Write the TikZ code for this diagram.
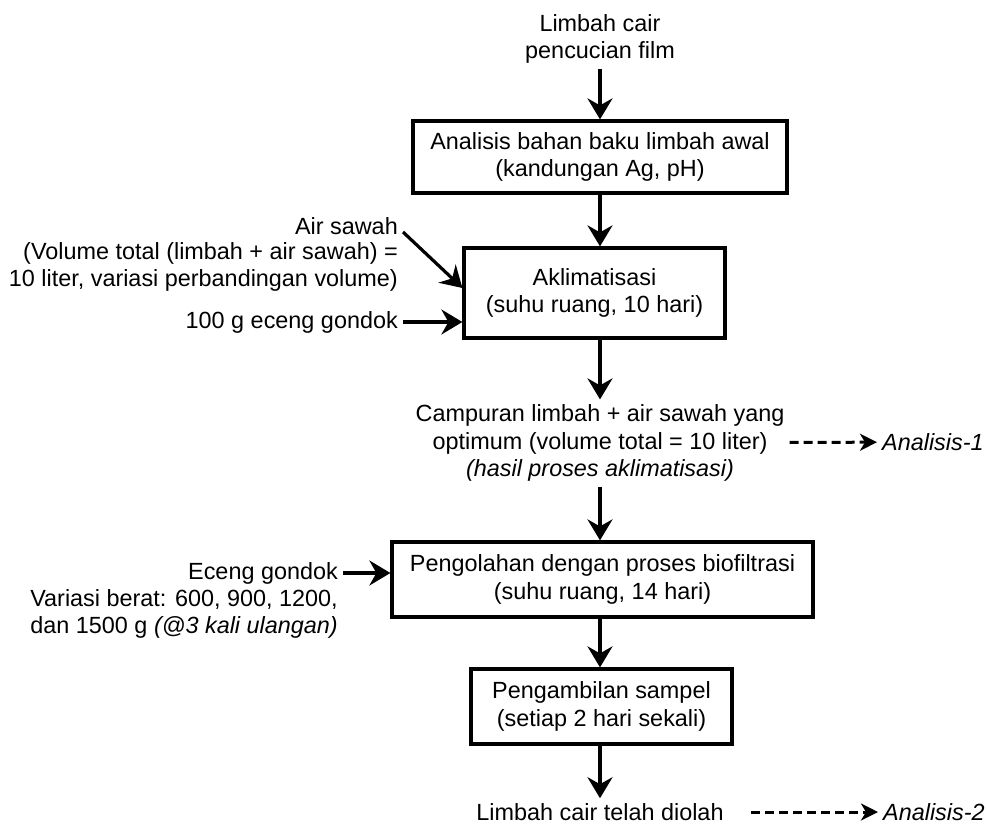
\documentclass[tikz,border=0pt]{standalone}
\usepackage{fontspec}
\setmainfont{Liberation Sans}
\usetikzlibrary{arrows.meta}
\usetikzlibrary{positioning}

\begin{document}
\begin{tikzpicture}[x=1pt, y=-1pt,
    every node/.style={font=\fontsize{23.4}{27.5}\selectfont, inner sep=5pt},
    txt/.style={align=center},
    side/.style={align=right, anchor=east},
    stepbox/.style={draw, line width=3.2pt, align=center},
    arr/.style={line width=3.2pt, -{Stealth[length=21pt, width=25pt, inset=7pt]}},
    dasharr/.style={line width=3pt, dash pattern=on 9pt off 5pt, -{Stealth[length=17pt, width=17pt, inset=5pt]}}]
    \useasboundingbox (0,0) rectangle (987,827);
    \node [txt] (src) at (600,38.75) {Limbah cair\\pencucian film};
    \node [stepbox, minimum width=374pt, minimum height=72pt] (raw) at (600,157) {Analisis bahan baku limbah awal\\(kandungan Ag, pH)};
    \node [stepbox, minimum width=261pt, minimum height=90pt] (aklim) at (594.5,293) {Aklimatisasi\\(suhu ruang, 10 hari)};
    \node [side] (air) at (403,226) {Air sawah};
    \node [side] (airvol) at (403,266.75) {(Volume total (limbah + air sawah) =\\10 liter, variasi perbandingan volume)};
    \node [side] (eceng) at (403,322) {100 g eceng gondok};
    \node [txt] (mix) at (600,443) {Campuran limbah + air sawah yang\\optimum (volume total = 10 liter)\\\textit{(hasil proses aklimatisasi)}};
    \node [anchor=west] (an1) at (877,442) {\textit{Analisis-1}};
    \node [stepbox, minimum width=421pt, minimum height=75pt] (biofil) at (602.5,579.5) {Pengolahan dengan proses biofiltrasi\\(suhu ruang, 14 hari)};
    \node [side] (ecg) at (343,573) {Eceng gondok};
    \node [side] (ecgvar) at (343,613.75) {Variasi berat: 600, 900, 1200,\\dan 1500 g \textit{(@3 kali ulangan)}};
    \node [stepbox, minimum width=261pt, minimum height=75pt] (sampel) at (601.5,706.5) {Pengambilan sampel\\(setiap 2 hari sekali)};
    \node [txt] (out) at (600,812) {Limbah cair telah diolah};
    \node [anchor=west] (an2) at (878,812) {\textit{Analisis-2}};
    \draw [arr] (src) -- (src |- raw.north);
    \draw [arr] (src |- raw.south) -- (src |- aklim.north);
    \draw [arr] ([yshift=-6pt]air.east) -- ([yshift=5pt]aklim.west);
    \draw [arr] (eceng) -- (eceng -| aklim.west);
    \draw [arr] (src |- aklim.south) -- (mix);
    \draw [dasharr] (mix) -- (an1);
    \draw [arr] (mix) -- (src |- biofil.north);
    \draw [arr] (ecg) -- (ecg -| biofil.west);
    \draw [arr] (src |- biofil.south) -- (src |- sampel.north);
    \draw [arr] (src |- sampel.south) -- (out);
    \draw [dasharr, shorten <=22pt] (out) -- (an2);
\end{tikzpicture}
\end{document}
